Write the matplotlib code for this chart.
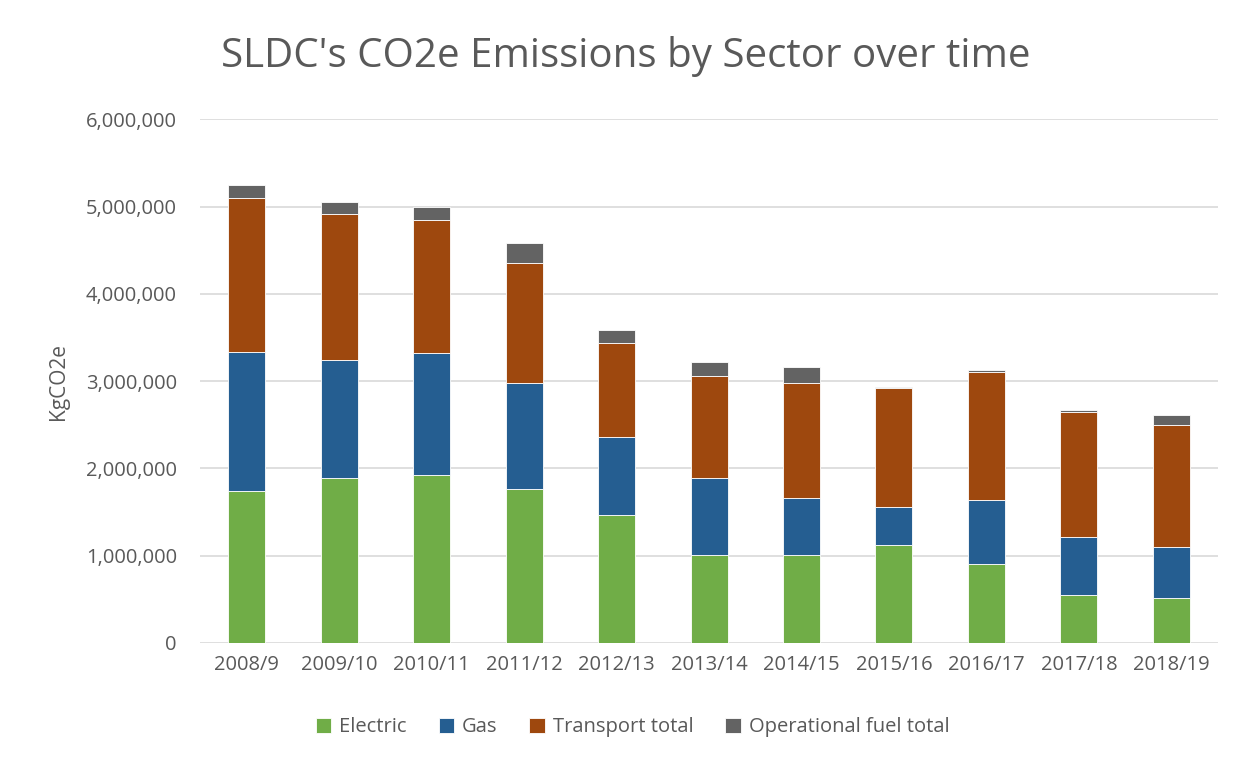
import matplotlib
matplotlib.use("Agg")
import matplotlib.pyplot as plt
from matplotlib.ticker import FuncFormatter
import numpy as np

years = ["2008/9", "2009/10", "2010/11", "2011/12", "2012/13", "2013/14",
         "2014/15", "2015/16", "2016/17", "2017/18", "2018/19"]

electric = [1740000, 1887000, 1921000, 1761000, 1463000, 1012000,
            1005000, 1119000, 901000, 554000, 512000]
gas = [1593000, 1355000, 1397000, 1217000, 901000, 875000,
       656000, 443000, 742000, 665000, 588000]
transport = [1764000, 1672000, 1532000, 1371000, 1069000, 1176000,
             1322000, 1356000, 1462000, 1432000, 1402000]
operational = [153000, 138000, 141000, 237000, 149000, 152000,
               175000, 19000, 27000, 15000, 106000]

series = [
    ("Electric", electric, "#70ad47"),
    ("Gas", gas, "#255e91"),
    ("Transport total", transport, "#9e480e"),
    ("Operational fuel total", operational, "#636363"),
]

plt.rcParams["font.family"] = ["Open Sans", "DejaVu Sans"]
text_col = "#595959"

fig = plt.figure(figsize=(12.45, 7.6), dpi=100)
ax = fig.add_axes([0.161, 0.154, 0.817, 0.689])

x = np.arange(len(years))
bottom = np.zeros(len(years))
for name, vals, col in series:
    ax.bar(x, vals, width=0.4, bottom=bottom, color=col, label=name,
           edgecolor="white", linewidth=0.6, zorder=3)
    bottom += np.array(vals)

ax.set_xlim(-0.5, len(years) - 0.5)
ax.set_ylim(0, 6000000)
ax.set_yticks(np.arange(0, 6000001, 1000000))
ax.yaxis.set_major_formatter(FuncFormatter(lambda v, p: f"{int(v):,}"))
ax.set_xticks(x)
ax.set_xticklabels(years)
ax.grid(axis="y", color="#d9d9d9", linewidth=1.2, zorder=0)
for s in ax.spines.values():
    s.set_visible(False)
ax.tick_params(length=0, labelsize=14.5, labelcolor=text_col)
ax.tick_params(axis="x", pad=9)
ax.tick_params(axis="y", pad=17)

ax.set_ylabel("KgCO2e", fontsize=15, color=text_col, labelpad=12)
fig.text(0.503, 0.926, "SLDC's CO2e Emissions by Sector over time",
         ha="center", va="center", fontsize=29, color=text_col)

leg = fig.legend(loc="center", bbox_to_anchor=(0.508, 0.043), ncol=4,
                 frameon=False, fontsize=14.5, handlelength=0.75,
                 handleheight=0.75, columnspacing=1.6, handletextpad=0.4)
for t in leg.get_texts():
    t.set_color(text_col)

fig.savefig("out.png", dpi=100)
